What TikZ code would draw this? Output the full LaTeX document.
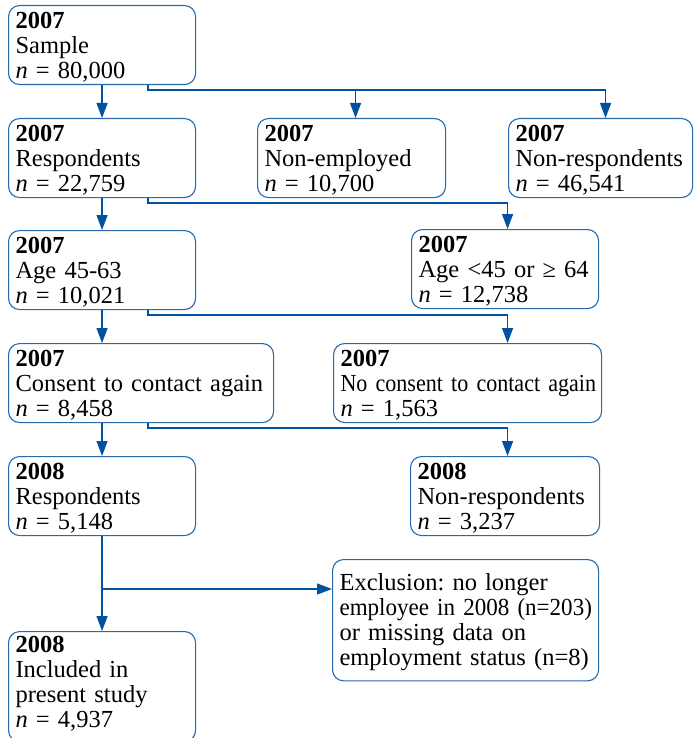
\documentclass[tikz,border=0pt]{standalone}
\usepackage{fontspec}
\setmainfont{Liberation Serif}[WordSpace=0.8]
\newfontfamily\narrowfont{Liberation Serif}[WordSpace=0.7,FakeStretch=0.9]
\newfontfamily\midfont{Liberation Serif}[WordSpace=0.8,FakeStretch=0.94]
\usetikzlibrary{arrows.meta}
\definecolor{box_blue}{RGB}{40,105,170}
\definecolor{arr_blue}{RGB}{0,82,160}
\newcommand{\topstrut}{\rule{0pt}{21pt}}
\newcommand{\botstrut}{\rule[-4pt]{0pt}{4pt}}
\tikzstyle{bx}=[draw=box_blue,line width=1.1pt,rounded corners=11pt,
  anchor=north west,align=left,inner xsep=7pt,inner ysep=2pt,
  font=\fontsize{24.5}{25}\selectfont\frenchspacing,
  execute at begin node=\topstrut,execute at end node=\botstrut]
\tikzstyle{ar}=[draw=arr_blue,line width=1.3pt,-{Triangle[length=15pt,width=11pt]}]

\begin{document}
\begin{tikzpicture}[x=1pt,y=-1pt]
    \useasboundingbox (0,0) rectangle (693,738);
    \node [style=bx,text width=173pt] (sample) at (8,5) {\textbf{2007}\\Sample\\\textit{n} = 80,000};
    \node [style=bx,text width=173pt] (resp7) at (8,118) {\textbf{2007}\\Respondents\\\textit{n} = 22,759};
    \node [style=bx,text width=174pt] (nonemp) at (257,118) {\textbf{2007}\\Non-employed\\\textit{n} = 10,700};
    \node [style=bx,text width=170pt] (nonresp7) at (508,118) {\textbf{2007}\\Non-respondents\\\textit{n} = 46,541};
    \node [style=bx,text width=173pt] (age) at (8,230) {\textbf{2007}\\Age 45-63\\\textit{n} = 10,021};
    \node [style=bx,text width=173pt] (ageout) at (411,229) {\textbf{2007}\\Age <45 or ≥ 64\\\textit{n} = 12,738};
    \node [style=bx,text width=251pt] (consent) at (8,343) {\textbf{2007}\\\mbox{Consent to contact again}\\\textit{n} = 8,458};
    \node [style=bx,text width=254pt] (noconsent) at (333,343) {\textbf{2007}\\\mbox{\narrowfont No consent to contact again}\\\textit{n} = 1,563};
    \node [style=bx,text width=173pt] (resp8) at (8,456) {\textbf{2008}\\Respondents\\\textit{n} = 5,148};
    \node [style=bx,text width=175pt] (nonresp8) at (410,456) {\textbf{2008}\\Non-respondents\\\textit{n} = 3,237};
    \node [style=bx,text width=252pt,inner ysep=10pt] (excl) at (332,559) {Exclusion: no longer\\\mbox{\midfont employee in 2008 (n=203)}\\or missing data on\\\mbox{employment status (n=8)}};
    \node [style=bx,text width=173pt,inner ysep=0pt] (incl) at (8,631) {\textbf{2008}\\Included in\\present study\\\textit{n} = 4,937\rule[-14pt]{0pt}{14pt}};
    % main line
    \draw [style=ar] (sample) to (resp7);
    \draw [style=ar] (resp7) to (age);
    \draw [style=ar] (age.south) to (age.south |- consent.north);
    \draw [style=ar] (age.south |- consent.south) to (resp8.north);
    \draw [style=ar] (resp8) to (incl);
    % side branches
    \coordinate (s1) at (148,90);
    \coordinate (s2) at (148,203);
    \coordinate (s3) at (148,315);
    \coordinate (s4) at (148,428);
    \coordinate (s5) at (resp8.south |- 0,589);
    \draw [style=ar] (s1 |- sample.south) -- (s1) -| ([xshift=4pt]nonemp.north);
    \draw [style=ar] (s1) -| ([xshift=5pt]nonresp7.north);
    \draw [style=ar] (s2 |- resp7.south) -- (s2) -| ([xshift=2.5pt]ageout.north);
    \draw [style=ar] (s3 |- age.south) -- (s3) -| ([xshift=40pt]noconsent.north);
    \draw [style=ar] (s4 |- consent.south) -- (s4) -| ([xshift=2.5pt]nonresp8.north);
    \draw [style=ar] (s5) -- (s5 -| excl.west);
  \end{tikzpicture}
\end{document}
